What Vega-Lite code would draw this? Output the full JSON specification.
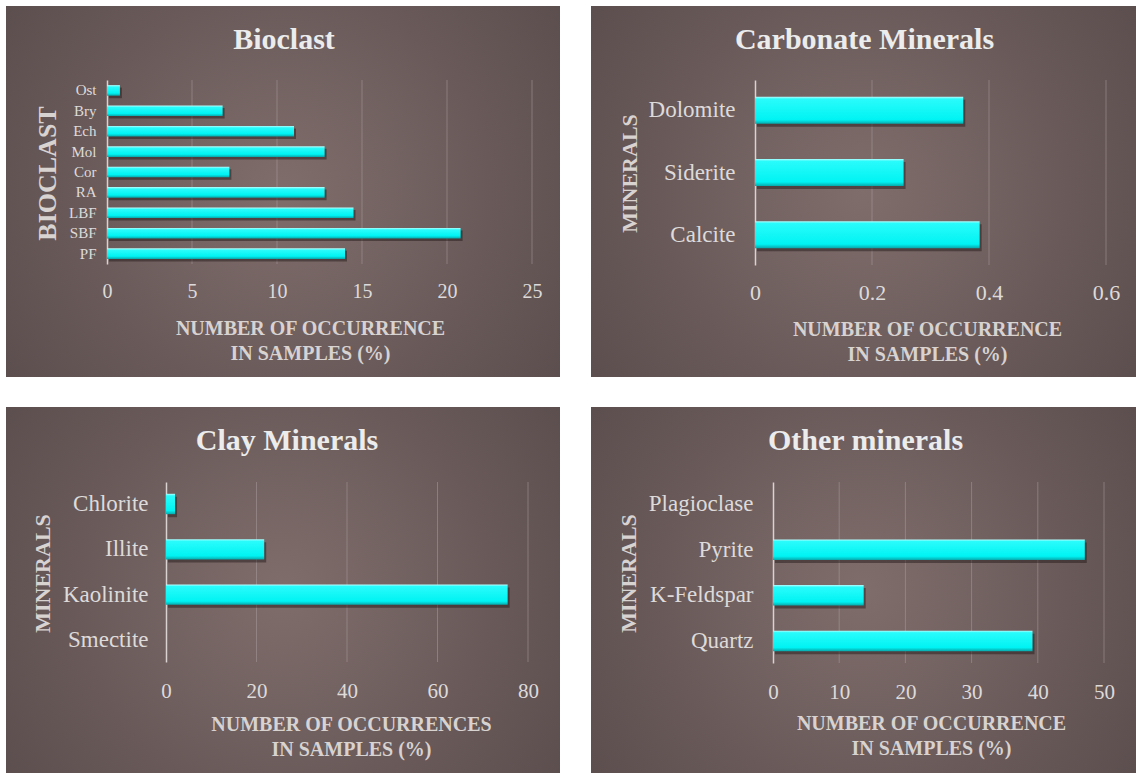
{
  "$schema": "https://vega.github.io/schema/vega-lite/v6.json",
  "background": "#ffffff",
  "padding": {"left": 6, "top": 6, "right": 0, "bottom": 0},
  "spacing": 30,
  "datasets": {
    "bioclast": [
      {"name": "Ost", "value": 0.76},
      {"name": "Bry", "value": 6.8},
      {"name": "Ech", "value": 11.0},
      {"name": "Mol", "value": 12.8},
      {"name": "Cor", "value": 7.2},
      {"name": "RA", "value": 12.8},
      {"name": "LBF", "value": 14.5},
      {"name": "SBF", "value": 20.8},
      {"name": "PF", "value": 14.0}
    ],
    "carbonate": [
      {"name": "Dolomite", "value": 0.356},
      {"name": "Siderite", "value": 0.254},
      {"name": "Calcite", "value": 0.384}
    ],
    "clay": [
      {"name": "Chlorite", "value": 2.0},
      {"name": "Illite", "value": 21.7},
      {"name": "Kaolinite", "value": 75.5},
      {"name": "Smectite", "value": 0}
    ],
    "other": [
      {"name": "Plagioclase", "value": 0},
      {"name": "Pyrite", "value": 47.1},
      {"name": "K-Feldspar", "value": 13.7},
      {"name": "Quartz", "value": 39.2}
    ],
    "grid25": [{"value": 5}, {"value": 10}, {"value": 15}, {"value": 20}, {"value": 25}],
    "grid06": [{"value": 0.2}, {"value": 0.4}, {"value": 0.6}],
    "grid80": [{"value": 20}, {"value": 40}, {"value": 60}, {"value": 80}],
    "grid50": [{"value": 10}, {"value": 20}, {"value": 30}, {"value": 40}, {"value": 50}]
  },
  "vconcat": [
    {
      "spacing": 31,
      "hconcat": [
        {
          "width": 554,
          "height": 371,
          "title": {"text": "Bioclast", "offset": -49, "dx": 1},
          "encoding": {
            "x": {
              "field": "value", "type": "quantitative",
              "scale": {"domain": [0, 25], "range": [101, 526], "nice": false},
              "axis": {"title": ["NUMBER OF OCCURRENCE", "IN SAMPLES (%)"], "offset": -113, "values": [0, 5, 10, 15, 20, 25], "labelFontSize": 20, "labelPadding": 27, "titleX": 304, "titleY": 70}
            }
          },
          "layer": [
            {
              "data": {"name": "grid25"},
              "mark": {"type": "rule", "color": "#a8999a", "opacity": 0.55, "strokeWidth": 1},
              "encoding": {
                "y": {"datum": 0, "type": "quantitative", "scale": {"domain": [0, 1], "range": [74, 258], "nice": false, "zero": false}, "axis": null},
                "y2": {"datum": 1}
              }
            },
            {
              "data": {"name": "bioclast"},
              "encoding": {
                "y": {
                  "field": "name", "type": "nominal", "sort": null,
                  "scale": {"range": [74, 258], "paddingInner": 0.48, "paddingOuter": 0.25},
                  "axis": {"title": "BIOCLAST", "offset": -101, "labelPadding": 11, "labelFontSize": 15, "titleFontSize": 26, "titleX": -60, "titleY": 167}
                }
              },
              "layer": [
                {"mark": {"type": "bar", "color": "#1e1515", "opacity": 0.45, "xOffset": 2, "yOffset": 2.5}},
                {"mark": {"type": "bar", "color": {"gradient": "linear", "x1": 0, "y1": 0, "x2": 0, "y2": 1, "stops": [{"offset": 0, "color": "#b5ffff"}, {"offset": 0.18, "color": "#2afbfb"}, {"offset": 0.75, "color": "#00f3f3"}, {"offset": 1, "color": "#08a8ab"}]}}}
              ]
            }
          ],
          "resolve": {"scale": {"y": "independent"}}
        },
        {
          "width": 545,
          "height": 371,
          "title": {"text": "Carbonate Minerals", "offset": -49, "dx": 1},
          "encoding": {
            "x": {
              "field": "value", "type": "quantitative",
              "scale": {"domain": [0, 0.6], "range": [164, 515], "nice": false},
              "axis": {"title": ["NUMBER OF OCCURRENCE", "IN SAMPLES (%)"], "offset": -112, "values": [0, 0.2, 0.4, 0.6], "format": "~g", "labelFontSize": 22, "labelPadding": 27, "titleX": 336, "titleY": 70}
            }
          },
          "layer": [
            {
              "data": {"name": "grid06"},
              "mark": {"type": "rule", "color": "#a8999a", "opacity": 0.55, "strokeWidth": 1},
              "encoding": {
                "y": {"datum": 0, "type": "quantitative", "scale": {"domain": [0, 1], "range": [74, 259], "nice": false, "zero": false}, "axis": null},
                "y2": {"datum": 1}
              }
            },
            {
              "data": {"name": "carbonate"},
              "encoding": {
                "y": {
                  "field": "name", "type": "nominal", "sort": null,
                  "scale": {"range": [74, 259], "paddingInner": 0.565, "paddingOuter": 0.27},
                  "axis": {"title": "MINERALS", "offset": -164, "labelPadding": 20, "labelFontSize": 23, "titleX": -126, "titleY": 167}
                }
              },
              "layer": [
                {"mark": {"type": "bar", "color": "#1e1515", "opacity": 0.45, "xOffset": 2, "yOffset": 3}},
                {"mark": {"type": "bar", "color": {"gradient": "linear", "x1": 0, "y1": 0, "x2": 0, "y2": 1, "stops": [{"offset": 0, "color": "#b5ffff"}, {"offset": 0.08, "color": "#2afbfb"}, {"offset": 0.85, "color": "#00f3f3"}, {"offset": 1, "color": "#08a8ab"}]}}}
              ]
            }
          ],
          "resolve": {"scale": {"y": "independent"}}
        }
      ]
    },
    {
      "spacing": 31,
      "hconcat": [
        {
          "width": 554,
          "height": 366,
          "title": {"text": "Clay Minerals", "offset": -49, "dx": 4},
          "encoding": {
            "x": {
              "field": "value", "type": "quantitative",
              "scale": {"domain": [0, 80], "range": [160, 522], "nice": false},
              "axis": {"title": ["NUMBER OF OCCURRENCES", "IN SAMPLES (%)"], "offset": -111, "values": [0, 20, 40, 60, 80], "labelFontSize": 21, "labelPadding": 29, "titleX": 345, "titleY": 68}
            }
          },
          "layer": [
            {
              "data": {"name": "grid80"},
              "mark": {"type": "rule", "color": "#a8999a", "opacity": 0.55, "strokeWidth": 1},
              "encoding": {
                "y": {"datum": 0, "type": "quantitative", "scale": {"domain": [0, 1], "range": [75, 255], "nice": false, "zero": false}, "axis": null},
                "y2": {"datum": 1}
              }
            },
            {
              "data": {"name": "clay"},
              "encoding": {
                "y": {
                  "field": "name", "type": "nominal", "sort": null,
                  "scale": {"range": [75, 255], "paddingInner": 0.55, "paddingOuter": 0.26},
                  "axis": {"title": "MINERALS", "offset": -160, "labelPadding": 18, "labelFontSize": 23, "titleX": -124, "titleY": 166}
                }
              },
              "layer": [
                {"mark": {"type": "bar", "color": "#1e1515", "opacity": 0.45, "xOffset": 2, "yOffset": 3}},
                {"mark": {"type": "bar", "color": {"gradient": "linear", "x1": 0, "y1": 0, "x2": 0, "y2": 1, "stops": [{"offset": 0, "color": "#b5ffff"}, {"offset": 0.1, "color": "#2afbfb"}, {"offset": 0.82, "color": "#00f3f3"}, {"offset": 1, "color": "#08a8ab"}]}}}
              ]
            }
          ],
          "resolve": {"scale": {"y": "independent"}}
        },
        {
          "width": 545,
          "height": 366,
          "title": {"text": "Other minerals", "offset": -49, "dx": 2},
          "encoding": {
            "x": {
              "field": "value", "type": "quantitative",
              "scale": {"domain": [0, 50], "range": [182, 513], "nice": false},
              "axis": {"title": ["NUMBER OF OCCURRENCE", "IN SAMPLES (%)"], "offset": -110, "values": [0, 10, 20, 30, 40, 50], "labelFontSize": 21, "labelPadding": 29, "titleX": 340, "titleY": 66}
            }
          },
          "layer": [
            {
              "data": {"name": "grid50"},
              "mark": {"type": "rule", "color": "#a8999a", "opacity": 0.55, "strokeWidth": 1},
              "encoding": {
                "y": {"datum": 0, "type": "quantitative", "scale": {"domain": [0, 1], "range": [75, 256], "nice": false, "zero": false}, "axis": null},
                "y2": {"datum": 1}
              }
            },
            {
              "data": {"name": "other"},
              "encoding": {
                "y": {
                  "field": "name", "type": "nominal", "sort": null,
                  "scale": {"range": [75, 256], "paddingInner": 0.55, "paddingOuter": 0.26},
                  "axis": {"title": "MINERALS", "offset": -182, "labelPadding": 20, "labelFontSize": 23, "titleX": -145, "titleY": 166}
                }
              },
              "layer": [
                {"mark": {"type": "bar", "color": "#1e1515", "opacity": 0.45, "xOffset": 2, "yOffset": 3}},
                {"mark": {"type": "bar", "color": {"gradient": "linear", "x1": 0, "y1": 0, "x2": 0, "y2": 1, "stops": [{"offset": 0, "color": "#b5ffff"}, {"offset": 0.1, "color": "#2afbfb"}, {"offset": 0.82, "color": "#00f3f3"}, {"offset": 1, "color": "#08a8ab"}]}}}
              ]
            }
          ],
          "resolve": {"scale": {"y": "independent"}}
        }
      ]
    }
  ],
  "config": {
    "font": "Liberation Serif",
    "view": {
      "stroke": null,
      "fill": {"gradient": "radial", "x1": 0.5, "y1": 0.5, "r1": 0, "x2": 0.5, "y2": 0.5, "r2": 0.75, "stops": [{"offset": 0, "color": "#7f6d6b"}, {"offset": 1, "color": "#534747"}]}
    },
    "title": {
      "font": "Liberation Serif",
      "fontSize": 30,
      "fontWeight": "bold",
      "color": "#ececec",
      "anchor": "middle",
      "frame": "group",
      "baseline": "alphabetic"
    },
    "axis": {
      "labelFont": "Liberation Serif",
      "labelColor": "#dedada",
      "titleFont": "Liberation Serif",
      "titleColor": "#d8d2d1",
      "titleFontWeight": "bold",
      "ticks": false,
      "tickSize": 0,
      "labelFlush": false,
      "labelOverlap": false
    },
    "axisX": {
      "domain": false,
      "grid": false,
      "labelBaseline": "middle",
      "titleFontSize": 20,
      "titleLineHeight": 25,
      "titleBaseline": "alphabetic",
      "titleAlign": "center"
    },
    "axisY": {
      "grid": false,
      "domain": true,
      "domainColor": "#d9d2d1",
      "domainWidth": 1.5,
      "labelBaseline": "middle",
      "titleFontSize": 22,
      "titleAngle": 270,
      "titleAlign": "center",
      "titleBaseline": "middle"
    }
  }
}
